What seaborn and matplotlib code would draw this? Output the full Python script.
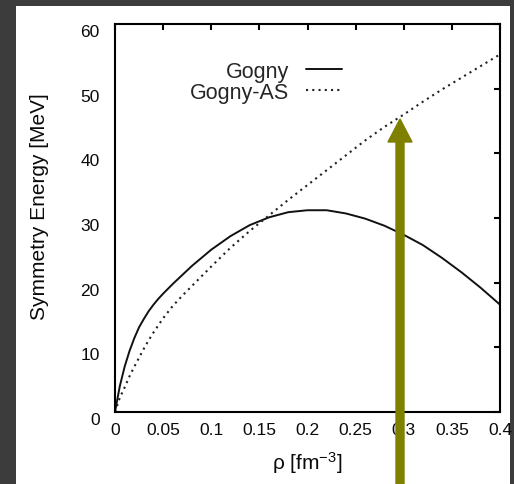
import numpy as np
import pandas as pd
import seaborn as sns
import matplotlib
matplotlib.use("Agg")
import matplotlib.pyplot as plt
import matplotlib.patches as mpatches
import matplotlib.transforms as mtransforms
from matplotlib.lines import Line2D

# ---- data ----
rho = [0, 0.005, 0.01, 0.015, 0.02, 0.025, 0.03, 0.035, 0.04, 0.045, 0.05, 0.06,
       0.07, 0.08, 0.10, 0.12, 0.14, 0.16, 0.18, 0.20, 0.22, 0.24, 0.26, 0.28,
       0.30, 0.32, 0.34, 0.36, 0.38, 0.40]
gogny = [0, 4.0, 7.0, 9.4, 11.4, 13.1, 14.4, 15.6, 16.6, 17.5, 18.3, 19.8,
         21.2, 22.6, 25.1, 27.2, 28.9, 30.1, 30.9, 31.2, 31.2, 30.7, 29.9, 28.8,
         27.4, 25.8, 23.8, 21.6, 19.2, 16.6]
gogny_as = [0, 2.2, 3.8, 5.5, 7.0, 8.4, 9.8, 11.1, 12.3, 13.4, 14.5, 16.4,
            18.0, 19.5, 22.5, 25.4, 28.0, 30.4, 32.8, 35.1, 37.4, 39.7, 42.0, 44.1,
            46.0, 48.0, 49.9, 51.7, 53.5, 55.3]
series_names = ["Gogny", "Gogny-AS"]
xticks = [0, 0.05, 0.1, 0.15, 0.2, 0.25, 0.3, 0.35, 0.4]
xtick_labels = ["0", "0.05", "0.1", "0.15", "0.2", "0.25", "0.3", "0.35", "0.4"]
yticks = [0, 10, 20, 30, 40, 50, 60]
ytick_labels = ["0", "10", "20", "30", "40", "50", "60"]

sns.set_style("white")
plt.rcParams['font.family'] = ['Liberation Sans', 'DejaVu Sans']
plt.rcParams['mathtext.fontset'] = 'custom'
plt.rcParams['mathtext.rm'] = 'Liberation Sans'
plt.rcParams['mathtext.default'] = 'regular'

W, H = 514, 485
fig = plt.figure(figsize=(W / 100, H / 100), dpi=100, facecolor='#3c3c3c')

# white page area (behind the axes)
page = mpatches.Rectangle((16 / W, 0), (510 - 16) / W, (H - 7) / H,
                          transform=fig.transFigure, facecolor='white',
                          edgecolor='none', zorder=-5)
fig.patches.append(page)

ax_l, ax_r, ax_t, ax_b = 115, 500, 25, 413
ax = fig.add_axes([ax_l / W, (H - ax_b) / H, (ax_r - ax_l) / W, (ax_b - ax_t) / H])
ax.set_facecolor('none')

dotted = (0, (1, 2))
sns.lineplot(x=rho, y=gogny, ax=ax, color='#111111', linewidth=1.4, label=series_names[0])
sns.lineplot(x=rho, y=gogny_as, ax=ax, color='#222222', linewidth=1.5,
             linestyle=dotted, label=series_names[1])

ax.set_xlim(0, 0.4)
ax.set_ylim(0, 60)
ax.set_xticks(xticks)
ax.set_xticklabels(xtick_labels)
ax.set_yticks(yticks)
ax.set_yticklabels(ytick_labels)

for s in ax.spines.values():
    s.set_linewidth(1.5)
    s.set_color('black')
    s.set_visible(True)

ax.tick_params(axis='both', direction='in', length=4, width=1.5, colors='black',
               top=True, right=True, labelsize=12.5, labelcolor='#0a0a0a')
ax.tick_params(axis='x', pad=7)
ax.tick_params(axis='y', pad=11)

ax.set_ylabel("Symmetry Energy [MeV]", fontsize=15, color='#0a0a0a')
ax.yaxis.set_label_coords((49 - ax_l) / (ax_r - ax_l), (ax_b - 207) / (ax_b - ax_t))
ax.set_xlabel("ρ [fm$^{-3}$]", fontsize=15, color='#0a0a0a')
ax.xaxis.set_label_coords(0.5, (ax_b - 450) / (ax_b - ax_t))

# legend (text before sample, gnuplot style)
handles = [Line2D([], [], color='#111111', linewidth=1.4),
           Line2D([], [], color='#222222', linewidth=1.5, linestyle=dotted)]
ax.legend(handles, series_names, markerfirst=False, frameon=False, fontsize=15.5,
          handlelength=1.7, handletextpad=0.75, labelspacing=0.0, borderpad=0,
          loc='upper right', bbox_to_anchor=(353 / W, (H - 51) / H),
          bbox_transform=fig.transFigure)

fig.canvas.draw()
offset = mtransforms.ScaledTranslation(0, -6 / 100, fig.dpi_scale_trans)
for lbl in ax.get_yticklabels():
    lbl.set_transform(lbl.get_transform() + offset)

# olive arrow (annotation overlay)
arrow = mpatches.FancyArrow(400, 0, 0, H - 120, width=8, head_width=24,
                            head_length=23, length_includes_head=True,
                            color='#7f7f00', transform=mtransforms.IdentityTransform(),
                            zorder=10)
fig.add_artist(arrow)

fig.savefig("out.png", dpi=100, facecolor=fig.get_facecolor())
